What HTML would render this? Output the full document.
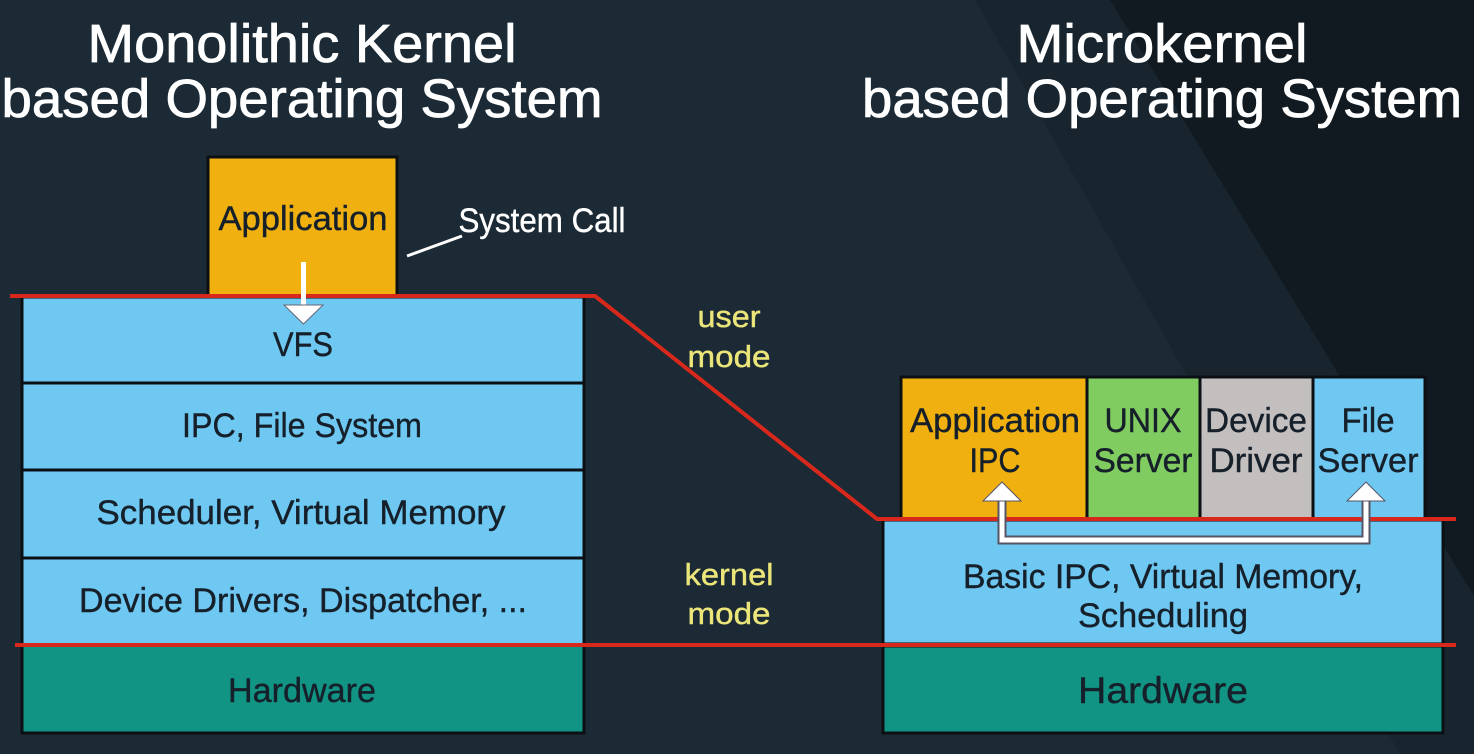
<!DOCTYPE html>
<html><head><meta charset="utf-8"><style>
html,body{margin:0;padding:0;background:#1b2a35;}
svg{display:block}
text{font-family:"Liberation Sans",sans-serif;}
</style></head><body>
<svg width="1474" height="754" viewBox="0 0 1474 754" xmlns="http://www.w3.org/2000/svg">
<rect width="1474" height="754" fill="#1b2a35"/>
<polygon points="1110,0 1474,0 1474,596" fill="#111a20"/>
<polygon points="975,0 1110,0 1474,596 1474,754 1400,754" fill="#17232c" opacity="0.6"/>
<!-- titles -->
<g fill="#fff" font-size="54" text-anchor="middle" stroke="#fff" stroke-width="0.8">
<text x="302" y="62" textLength="429" lengthAdjust="spacingAndGlyphs">Monolithic Kernel</text>
<text x="302" y="117" textLength="601" lengthAdjust="spacingAndGlyphs">based Operating System</text>
<text x="1162" y="62" textLength="291" lengthAdjust="spacingAndGlyphs">Microkernel</text>
<text x="1162" y="117" textLength="600" lengthAdjust="spacingAndGlyphs">based Operating System</text>
</g>
<!-- left stack -->
<g stroke="#0c1014" stroke-width="3">
<rect x="208" y="157" width="189" height="139" fill="#f0b010"/>
<rect x="22" y="297" width="562" height="86" fill="#6ec8f2"/>
<rect x="22" y="383" width="562" height="87" fill="#6ec8f2"/>
<rect x="22" y="470" width="562" height="88" fill="#6ec8f2"/>
<rect x="22" y="558" width="562" height="87" fill="#6ec8f2"/>
<rect x="22" y="645" width="562" height="88" fill="#129484"/>
</g>
<!-- right stack -->
<g stroke="#0c1014" stroke-width="3">
<rect x="901" y="377" width="186" height="142" fill="#f0b010"/>
<rect x="1087" y="377" width="113" height="142" fill="#80cc60"/>
<rect x="1200" y="377" width="113" height="142" fill="#c4bfbf"/>
<rect x="1313" y="377" width="112" height="142" fill="#6ec8f2"/>
<rect x="883" y="520" width="560" height="124" fill="#6ec8f2"/>
<rect x="883" y="646" width="560" height="87" fill="#129484"/>
</g>
<!-- red lines -->
<polyline points="10,296 595,296 877,519 1456,519" fill="none" stroke="#d8281c" stroke-width="4"/>
<line x1="15" y1="645" x2="1456" y2="645" stroke="#d8281c" stroke-width="4"/>
<!-- system call arrow -->
<g fill="#fff" stroke="#667" stroke-width="1">
<rect x="301" y="262" width="5" height="46" stroke="none"/>
<polygon points="284,305 323,305 303.5,324"/>
</g>
<line x1="407" y1="256" x2="462" y2="236" stroke="#fff" stroke-width="3"/>
<!-- IPC arrow right -->
<polyline points="1002,496 1002,540 1366,540 1366,496" fill="none" stroke="#556" stroke-width="9"/>
<polyline points="1002,496 1002,540 1366,540 1366,496" fill="none" stroke="#fff" stroke-width="5"/>
<polygon points="983,501 1021,501 1002,482" fill="#fff" stroke="#556"/>
<polygon points="1347,501 1385,501 1366,482" fill="#fff" stroke="#556"/>
<!-- labels -->
<g fill="#16202a" font-size="34" text-anchor="middle" stroke="#16202a" stroke-width="0.4">
<text x="303" y="230" textLength="169" lengthAdjust="spacingAndGlyphs">Application</text>
<text x="303" y="356" textLength="60" lengthAdjust="spacingAndGlyphs">VFS</text>
<text x="302" y="437" textLength="240" lengthAdjust="spacingAndGlyphs">IPC, File System</text>
<text x="301" y="524" textLength="409" lengthAdjust="spacingAndGlyphs">Scheduler, Virtual Memory</text>
<text x="303" y="612" textLength="448" lengthAdjust="spacingAndGlyphs">Device Drivers, Dispatcher, ...</text>
<text x="302" y="702" textLength="148" lengthAdjust="spacingAndGlyphs">Hardware</text>
<text x="995" y="432" textLength="170" lengthAdjust="spacingAndGlyphs">Application</text>
<text x="995" y="472" textLength="51" lengthAdjust="spacingAndGlyphs">IPC</text>
<text x="1143" y="432" textLength="77" lengthAdjust="spacingAndGlyphs">UNIX</text>
<text x="1143" y="472" textLength="99" lengthAdjust="spacingAndGlyphs">Server</text>
<text x="1256" y="432" textLength="102" lengthAdjust="spacingAndGlyphs">Device</text>
<text x="1256" y="472" textLength="93" lengthAdjust="spacingAndGlyphs">Driver</text>
<text x="1368" y="432" textLength="53" lengthAdjust="spacingAndGlyphs">File</text>
<text x="1368" y="472" textLength="101" lengthAdjust="spacingAndGlyphs">Server</text>
<text x="1163" y="588" textLength="400" lengthAdjust="spacingAndGlyphs">Basic IPC, Virtual Memory,</text>
<text x="1163" y="627" textLength="170" lengthAdjust="spacingAndGlyphs">Scheduling</text>
<text x="1163" y="703" font-size="37" textLength="170" lengthAdjust="spacingAndGlyphs">Hardware</text>
</g>
<text x="542" y="232" fill="#fff" stroke="#fff" stroke-width="0.4" font-size="34" text-anchor="middle" textLength="167" lengthAdjust="spacingAndGlyphs">System Call</text>
<g fill="#ece67a" stroke="#ece67a" stroke-width="0.4" font-size="31" text-anchor="middle">
<text x="729" y="327" textLength="63" lengthAdjust="spacingAndGlyphs">user</text>
<text x="729" y="367" textLength="83" lengthAdjust="spacingAndGlyphs">mode</text>
<text x="729" y="585" textLength="89" lengthAdjust="spacingAndGlyphs">kernel</text>
<text x="729" y="624" textLength="83" lengthAdjust="spacingAndGlyphs">mode</text>
</g>
</svg>
</body></html>
